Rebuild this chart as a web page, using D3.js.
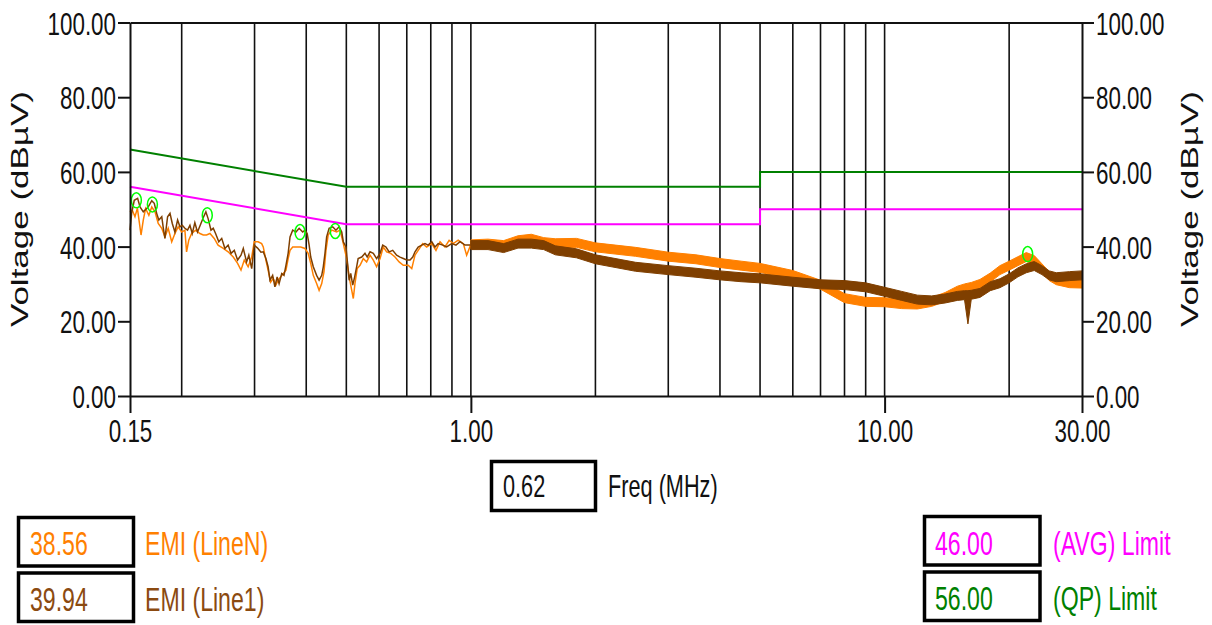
<!DOCTYPE html>
<html>
<head>
<meta charset="utf-8">
<script src="https://cdn.jsdelivr.net/npm/d3@7"></script>
<style>
  html, body { margin: 0; padding: 0; background: #fff; }
  svg { display: block; }
  text { font-family: "Liberation Sans", Arial, sans-serif; }
</style>
</head>
<body>
<svg id="chart"></svg>
<script>
// axis ticks
let xTicks = [0.15, 1, 10, 30];
let xTickLabels = ['0.15', '1.00', '10.00', '30.00'];
let yTicks = [0, 20, 40, 60, 80, 100];
let gridFreqs = [0.2, 0.3, 0.4, 0.5, 0.6, 0.7, 0.8, 0.9, 1, 2, 3, 4, 5, 6, 7, 8, 9, 10, 20];

// limits (MHz, dBuV)
let limitFreq = [0.15, 0.5, 5, 5, 30];
let qpLimit = [66, 56, 56, 60, 60];
let avgLimit = [56, 46, 46, 50, 50];

// EMI Line1 (brown), 0.15 - 1 MHz trace
let line1LowFreq = [0.150,0.1514,0.1536,0.1565,0.1586,0.1615,0.1659,0.1693,0.1717,0.1740,0.1761,0.1790,0.1806,0.1822,0.1849,0.1874,0.1898,0.1926,0.1955,0.1981,0.2006,0.2036,0.2066,0.2094,0.2121,0.2152,0.2184,0.2226,0.2260,0.2288,0.2317,0.2354,0.2384,0.2415,0.2459,0.2499,0.2544,0.2590,0.2632,0.2680,0.2730,0.2782,0.2818,0.2870,0.2906,0.2953,0.2995,0.3051,0.3109,0.3149,0.3196,0.3235,0.3269,0.3318,0.3360,0.3402,0.3439,0.3490,0.3534,0.3573,0.3617,0.3655,0.3710,0.3777,0.3845,0.3922,0.3972,0.4021,0.4065,0.4101,0.4160,0.4238,0.4297,0.4360,0.4398,0.4440,0.4481,0.4543,0.4635,0.4719,0.4803,0.4874,0.4917,0.4990,0.5025,0.5079,0.5124,0.5181,0.5238,0.5295,0.5340,0.5447,0.5547,0.5616,0.5705,0.5810,0.5918,0.6032,0.6123,0.6234,0.6345,0.6473,0.6615,0.6742,0.6866,0.6994,0.7128,0.7236,0.7327,0.7458,0.7608,0.7746,0.7885,0.8043,0.8189,0.8336,0.8550,0.8738,0.8990,0.9203,0.9415,0.9678,1.0];
let line1LowDb = [44.4,49.0,52.4,52.9,50.6,49.3,50.6,52.3,51.6,48.9,47.1,48.0,44.9,42.2,48.0,48.9,46.2,43.9,47.1,45.3,45.7,44.9,44.4,45.7,43.5,46.4,43.9,46.2,48.0,49.3,47.5,44.4,44.9,43.5,41.3,42.2,39.5,40.4,38.2,39.0,36.4,37.7,39.5,35.9,37.7,34.1,40.4,39.6,38.5,38.6,36.8,34.6,31.0,32.3,29.2,31.9,30.1,32.8,32.3,35.0,38.2,42.6,44.4,43.9,44.9,43.9,44.4,43.5,40.4,37.2,34.6,32.3,31.0,32.3,34.6,38.2,42.6,44.9,45.3,44.4,45.3,43.9,41.3,39.9,36.4,31.0,32.8,29.7,31.9,34.6,36.8,37.2,38.2,37.2,38.6,38.2,36.8,38.2,40.4,39.9,38.6,39.0,37.7,37.2,36.8,36.4,36.4,37.2,38.6,39.9,40.4,40.8,40.4,41.3,39.9,40.8,40.4,39.9,40.8,40.4,41.3,40.4,40.4];

// EMI LineN (orange), 0.15 - 1 MHz trace
let lineNLowFreq = [0.150,0.1519,0.1542,0.1563,0.1595,0.1615,0.1636,0.1666,0.1693,0.1724,0.1755,0.1790,0.1822,0.1855,0.1892,0.1926,0.1961,0.2000,0.2036,0.2055,0.2080,0.2114,0.2161,0.2214,0.2255,0.2297,0.2341,0.2397,0.2449,0.2521,0.2590,0.2665,0.2730,0.2782,0.2833,0.2895,0.2953,0.2995,0.3060,0.3121,0.3149,0.3196,0.3235,0.3282,0.3329,0.3378,0.3420,0.3470,0.3521,0.3573,0.3617,0.3655,0.3710,0.3792,0.3879,0.3972,0.4043,0.4101,0.4160,0.4238,0.4297,0.4360,0.4415,0.4464,0.4519,0.4609,0.4737,0.4828,0.4917,0.5009,0.5079,0.5153,0.5198,0.5246,0.5312,0.5396,0.5495,0.5598,0.5705,0.5810,0.5918,0.6032,0.6143,0.6258,0.6402,0.6555,0.6708,0.6866,0.7054,0.7196,0.7327,0.7458,0.7650,0.7818,0.8043,0.8234,0.8423,0.8658,0.8860,0.9069,0.9317,0.9588,0.9767,1.0];
let lineNLowDb = [49.3,49.8,48.0,50.3,43.1,47.1,50.2,48.4,50.6,49.3,46.2,44.9,42.6,44.9,41.3,43.5,45.3,43.9,44.4,38.6,41.7,43.5,44.4,43.5,43.1,43.1,43.5,42.2,40.4,39.5,38.6,37.2,35.5,33.7,36.4,34.6,37.2,41.3,41.3,40.8,39.9,36.4,33.7,30.5,31.5,29.7,31.0,31.9,32.8,33.7,36.8,39.0,39.9,39.9,39.9,39.5,38.2,35.5,32.3,30.1,28.3,30.1,33.2,39.0,43.1,44.4,43.9,44.4,40.8,36.8,31.9,28.3,26.1,30.1,34.1,35.0,36.8,35.9,37.7,36.4,34.6,36.8,39.9,38.6,38.2,37.2,35.9,35.0,35.0,34.1,37.7,39.0,40.8,39.9,40.8,39.0,41.3,39.9,41.7,40.8,41.7,40.8,37.7,40.6];

// 1 - 30 MHz: noise band envelopes (low / high edge)
let bandFreq = [1.0,1.1,1.2,1.3,1.4,1.5,1.6,1.8,2.0,2.5,3,3.5,4,4.5,5,6,7,8,9,10,11,12,13,14,15,15.6,15.9,16.2,17,18,19,20,21,22,23,24,25,26,28,30];
let line1Hi = [41.6,41.6,40.8,42.0,42.0,41.6,40.2,39.4,37.8,35.8,34.9,34.2,33.5,33.0,32.7,31.8,31.1,30.9,30.3,29.1,28.0,27.0,26.8,27.3,28.0,28.2,28.2,28.3,28.8,30.6,31.4,32.7,34.3,35.4,36.0,34.9,33.5,33.0,33.3,33.5];
let line1Lo = [39.2,39.2,38.4,39.6,39.6,39.2,37.8,37.0,35.4,33.4,32.5,31.8,31.1,30.6,30.3,29.4,28.7,28.5,27.9,26.7,25.6,24.6,24.4,24.9,25.6,25.8,19.3,25.9,26.4,28.2,29.0,30.3,31.9,33.0,33.6,32.5,31.1,30.6,30.9,31.1];
let lineNHi = [41.8,42.0,41.6,42.9,43.3,42.4,42.1,42.2,41.0,39.8,38.5,37.8,36.8,36.1,35.5,33.6,31.0,27.4,26.4,26.3,25.8,25.7,26.4,27.7,29.4,30.0,30.2,30.4,31.2,32.9,34.9,36.1,37.3,38.4,37.6,35.4,33.3,32.2,31.4,31.3];
let lineNLo = [39.4,39.6,39.2,40.5,40.9,40.0,39.7,39.8,38.6,37.4,36.1,35.4,34.4,33.7,33.1,31.2,28.6,25.0,24.0,23.9,23.4,23.3,24.0,25.3,27.0,27.6,27.8,28.0,28.8,30.5,32.5,33.7,34.9,36.0,35.2,33.0,30.9,29.8,29.0,28.9];

// peak markers
let markerFreq = [0.1554, 0.1699, 0.2306, 0.3864, 0.4701, 22.17];
let markerDb = [52.4, 51.3, 48.4, 43.9, 44.2, 38.0];

// cursor readouts
let cursorFreq = '0.62';
let legendLeft = [['38.56', 'EMI (LineN)'], ['39.94', 'EMI (Line1)']];
let legendRight = [['46.00', '(AVG) Limit'], ['56.00', '(QP) Limit']];

let w = 1212;
let h = 625;
let plotL = 130, plotR = 1082, plotT = 22.5, plotB = 396;
let squeeze = 0.7;

let cLineN = '#ff8000';
let cLine1 = '#7f3f00';
let cQP = '#008000';
let cAVG = '#ff00ff';

function hText(g, x, y, str, size, color) {
  return g.append('text')
    .attr('transform', `translate(${x},${y}) scale(${squeeze},1)`)
    .attr('font-size', size)
    .attr('fill', color)
    .text(str);
}

function initGraph() {
  let svg = d3.select('#chart').attr('width', w).attr('height', h);

  let xScale = d3.scaleLog().domain([0.15, 30]).range([plotL, plotR]);
  let yScale = d3.scaleLinear().domain([0, 100]).range([plotB, plotT]);

  // vertical grid
  svg.append('g').selectAll('line')
    .data(gridFreqs)
    .enter()
    .append('line')
    .attr('x1', d => xScale(d)).attr('x2', d => xScale(d))
    .attr('y1', yScale(0)).attr('y2', yScale(100))
    .attr('stroke', '#111').attr('stroke-width', 1.6);

  let line = d3.line().x(d => xScale(d[0])).y(d => yScale(d[1]));
  let area = d3.area()
    .x(d => xScale(d[0]))
    .y0(d => yScale(d[1]))
    .y1(d => yScale(d[2]));

  // limits
  svg.append('path').attr('d', line(d3.zip(limitFreq, qpLimit)))
    .attr('fill', 'none').attr('stroke', cQP).attr('stroke-width', 2);
  svg.append('path').attr('d', line(d3.zip(limitFreq, avgLimit)))
    .attr('fill', 'none').attr('stroke', cAVG).attr('stroke-width', 2);

  // traces: LineN under Line1
  let traces = [
    {color: cLineN, f: lineNLowFreq, v: lineNLowDb, lo: lineNLo, hi: lineNHi},
    {color: cLine1, f: line1LowFreq, v: line1LowDb, lo: line1Lo, hi: line1Hi}
  ];
  traces.forEach(t => {
    svg.append('path').attr('d', area(d3.zip(bandFreq, t.lo, t.hi)))
      .attr('fill', t.color).attr('stroke', t.color).attr('stroke-width', 1)
      .attr('stroke-linejoin', 'bevel');
    svg.append('path').attr('d', line(d3.zip(t.f, t.v)))
      .attr('fill', 'none').attr('stroke', t.color).attr('stroke-width', 1.5);
  });

  // markers
  svg.append('g').selectAll('ellipse')
    .data(d3.zip(markerFreq, markerDb))
    .enter()
    .append('ellipse')
    .attr('cx', d => xScale(d[0]))
    .attr('cy', d => yScale(d[1]))
    .attr('rx', 5).attr('ry', 7.5)
    .attr('fill', 'none').attr('stroke', '#00ff00').attr('stroke-width', 1.5);

  // axes
  let fmt = d3.format('.2f');
  let yLeft = d3.axisLeft(yScale).tickValues(yTicks).tickFormat(fmt).tickSize(12).tickSizeOuter(0).tickPadding(2);
  let yRight = d3.axisRight(yScale).tickValues(yTicks).tickFormat(fmt).tickSize(12).tickSizeOuter(0).tickPadding(2);
  let xBottom = d3.axisBottom(xScale).tickValues(xTicks).tickFormat((d, i) => xTickLabels[i]).tickSize(17).tickSizeOuter(0).tickPadding(6);
  let xTop = d3.axisTop(xScale).tickValues([]).tickSizeOuter(0);

  let groups = [
    svg.append('g').attr('transform', `translate(${plotL},0)`).call(yLeft),
    svg.append('g').attr('transform', `translate(${plotR},0)`).call(yRight),
    svg.append('g').attr('transform', `translate(0,${plotB})`).call(xBottom),
    svg.append('g').attr('transform', `translate(0,${plotT})`).call(xTop)
  ];
  groups.forEach(g => {
    g.attr('font-size', 32).attr('font-family', '"Liberation Sans", Arial, sans-serif');
    g.selectAll('path, line').attr('stroke', '#111').attr('stroke-width', 2);
    g.selectAll('text').attr('fill', '#111')
      .attr('x', function() { return (+d3.select(this).attr('x') || 0) / squeeze; })
      .attr('transform', `scale(${squeeze},1)`);
  });
  groups[0].selectAll('text').attr('dy', '0.36em');
  groups[1].selectAll('text').attr('dy', '0.36em');

  // axis titles
  [28, 1198].forEach(x => {
    svg.append('text')
      .attr('transform', `translate(${x},209) scale(${squeeze},1) rotate(-90)`)
      .attr('text-anchor', 'middle')
      .attr('font-size', 35)
      .attr('fill', '#111')
      .text('Voltage (dBµV)');
  });

  // cursor frequency box
  svg.append('rect').attr('x', 491.5).attr('y', 461.5).attr('width', 104).attr('height', 49)
    .attr('fill', '#fff').attr('stroke', '#000').attr('stroke-width', 3.5);
  hText(svg, 503, 497, cursorFreq, 31, '#111');
  hText(svg, 608, 497, 'Freq (MHz)', 31, '#111');

  // legend readouts
  let leftColors = [cLineN, '#8b4a10'];
  legendLeft.forEach((d, i) => {
    let y0 = 517.5 + i * 55.5;
    svg.append('rect').attr('x', 18.5).attr('y', y0).attr('width', 115).attr('height', 48.5)
      .attr('fill', '#fff').attr('stroke', '#000').attr('stroke-width', 3.5);
    hText(svg, 30, y0 + 37.5, d[0], 33, leftColors[i]);
    hText(svg, 145, y0 + 37.5, d[1], 33, leftColors[i]);
  });
  let rightColors = [cAVG, cQP];
  legendRight.forEach((d, i) => {
    let y0 = 516.5 + i * 55.5;
    svg.append('rect').attr('x', 924.5).attr('y', y0).attr('width', 115.5).attr('height', 48.5)
      .attr('fill', '#fff').attr('stroke', '#000').attr('stroke-width', 3.5);
    hText(svg, 935, y0 + 38, d[0], 33, rightColors[i]);
    hText(svg, 1053, y0 + 38, d[1], 33, rightColors[i]);
  });
}

window.onload = initGraph;
</script>
</body>
</html>
